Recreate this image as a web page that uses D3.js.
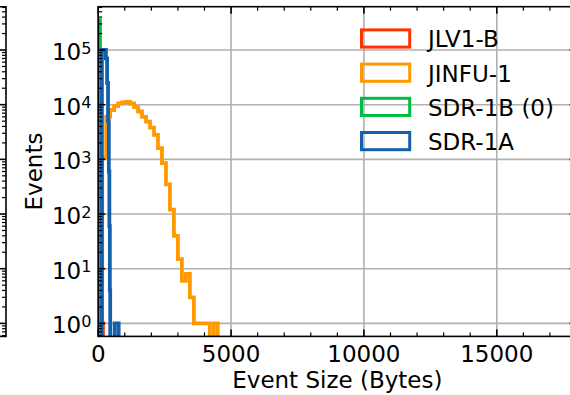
<!DOCTYPE html>
<html><head><meta charset="utf-8">
<script src="https://cdn.jsdelivr.net/npm/d3@7"></script>
<style>body{margin:0;background:#fff} svg{display:block} text{font-family:"DejaVu Sans",sans-serif;fill:#000}</style>
</head><body><svg id="c" width="570" height="395"></svg>
<script>
// ---- data ----
const seriesNames  = ["JLV1-B", "JINFU-1", "SDR-1B (0)", "SDR-1A"];
const seriesColors = ["#ff3300", "#ff9900", "#00bb44", "#1560ad"];
const redEdges   = [160, 180];
const redCounts  = [1];
const orangeEdges  = [0,150,300,450,600,750,900,1050,1200,1350,1500,1650,1800,1950,2100,2250,2400,2550,2700,2850,3000,3150,3300,3450,3600,3750,3900,4050,4200,4350,4500];
const orangeCounts = [0,1100,6000,8000,9400,10500,11000,11200,10500,9000,7500,6000,4900,3800,2800,1600,850,350,120,40,15,6,8,3,1,1,1,1,0,1];
const greenEdges  = [0, 65];
const greenCounts = [350000];
const blueEdges  = [140,290,335,370,400,420,438,452,620,770];
const blueCounts = [100000,70000,25000,5000,600,60,4,0,1];
const xTickValues = [0, 5000, 10000, 15000];
const yTickValues = [1, 10, 100, 1000, 10000, 100000];
const xLabel = "Event Size (Bytes)";
const yLabel = "Events";

// ---- layout ----
const L = 98.2, R = 576.5, T = 6.7, B = 336.4;
const svg = d3.select("#c");
const x = d3.scaleLinear().domain([0, 18000]).range([L, R]);
const y = d3.scaleLog().domain([Math.pow(10, -0.238), Math.pow(10, 5.792)]).range([B, T]);
const yv = c => c > 0 ? y(c) : B + 60;

svg.append("defs").append("clipPath").attr("id", "pa")
  .append("rect").attr("x", L).attr("y", T).attr("width", R - L).attr("height", B - T);

// grid
const grid = svg.append("g").attr("stroke", "#b0b0b0").attr("stroke-width", 1.6);
xTickValues.forEach(v => grid.append("line").attr("x1", x(v)).attr("x2", x(v)).attr("y1", T).attr("y2", B));
yTickValues.forEach(v => grid.append("line").attr("x1", L).attr("x2", R).attr("y1", y(v)).attr("y2", y(v)));

// histograms (step)
function stepPath(edges, counts) {
  const pts = [[x(edges[0]), B + 60]];
  counts.forEach((c, i) => { pts.push([x(edges[i]), yv(c)]); pts.push([x(edges[i + 1]), yv(c)]); });
  pts.push([x(edges[edges.length - 1]), B + 60]);
  return d3.line()(pts);
}
const hg = svg.append("g").attr("clip-path", "url(#pa)");
[[redEdges, redCounts], [orangeEdges, orangeCounts], [greenEdges, greenCounts], [blueEdges, blueCounts]]
  .forEach(([e, c], i) => hg.append("path").attr("d", stepPath(e, c)).attr("fill", "none")
    .attr("stroke", seriesColors[i]).attr("stroke-width", 3.8).attr("stroke-linejoin", "miter"));

// ticks
const tk = svg.append("g").attr("stroke", "#000");
function tick(x1, y1, x2, y2, w) { tk.append("line").attr("x1", x1).attr("y1", y1).attr("x2", x2).attr("y2", y2).attr("stroke-width", w); }
const xMinor = d3.range(1000, 18001, 1000).filter(v => v % 5000 !== 0);
xTickValues.forEach(v => { tick(x(v), B, x(v), B - 7, 1.6); tick(x(v), T, x(v), T + 7, 1.6); });
xMinor.forEach(v => { tick(x(v), B, x(v), B - 4, 1.2); tick(x(v), T, x(v), T + 4, 1.2); });
const yMinor = [];
for (let k = -1; k <= 5; k++) for (let m = 2; m <= 9; m++) { const v = m * Math.pow(10, k); if (y(v) >= T && y(v) <= B) yMinor.push(v); }
yTickValues.forEach(v => { tick(L, y(v), L + 7, y(v), 1.6); tick(R, y(v), R - 7, y(v), 1.6); tick(6, y(v), -1, y(v), 1.6); });
yMinor.forEach(v => { tick(L, y(v), L + 4, y(v), 1.2); tick(R, y(v), R - 4, y(v), 1.2); tick(6, y(v), 2, y(v), 1.2); });

// spines
svg.append("rect").attr("x", L).attr("y", T).attr("width", R - L).attr("height", B - T)
  .attr("fill", "none").attr("stroke", "#000").attr("stroke-width", 1.6);
// neighbouring panel edge (partial)
svg.append("path").attr("d", `M-2,${T}H6V${B}H-2`).attr("fill", "none").attr("stroke", "#000").attr("stroke-width", 1.6);

// tick labels
const fs = 23;
xTickValues.forEach(v => svg.append("text").attr("x", x(v)).attr("y", 362).attr("text-anchor", "middle")
  .attr("font-size", fs).text(d3.format("d")(v)));
yTickValues.forEach(v => {
  const t = svg.append("text").attr("x", 91.5).attr("y", y(v) + 10).attr("text-anchor", "end").attr("font-size", fs);
  t.append("tspan").text("10");
  t.append("tspan").attr("font-size", fs * 0.7).attr("dy", -6.3).text(String(Math.round(Math.log10(v))));
});

// axis labels
svg.append("text").attr("x", (L + R) / 2).attr("y", 388).attr("text-anchor", "middle").attr("font-size", fs).text(xLabel);
svg.append("text").attr("transform", `translate(41.7,${(T + B) / 2}) rotate(-90)`).attr("text-anchor", "middle")
  .attr("font-size", fs).text(yLabel);

// legend
const rowY = [38.5, 72.7, 106.9, 141.1];
seriesNames.forEach((n, i) => {
  svg.append("rect").attr("x", 361.5).attr("y", rowY[i] - 8.6).attr("width", 48.2).attr("height", 17.2)
    .attr("fill", "none").attr("stroke", seriesColors[i]).attr("stroke-width", 3);
  svg.append("text").attr("x", 428).attr("y", rowY[i] + 8.8).attr("font-size", fs).text(n);
});
</script></body></html>
